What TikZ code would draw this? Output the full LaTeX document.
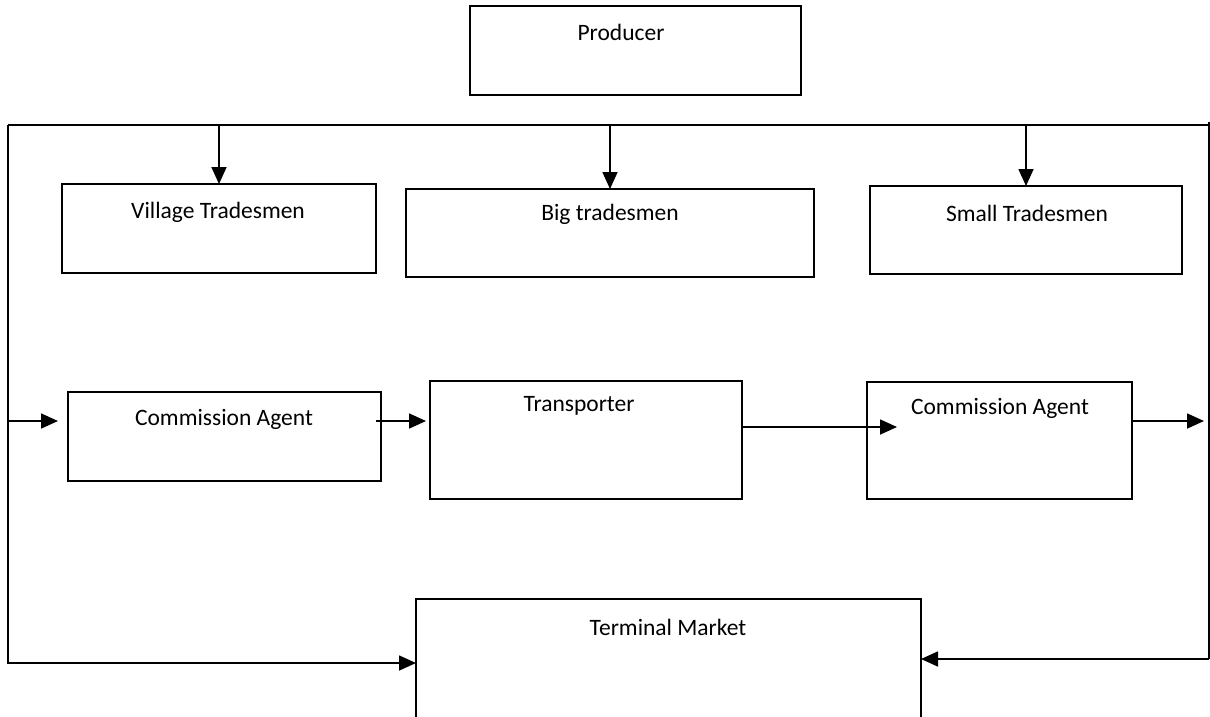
\documentclass[tikz,border=0pt]{standalone}
\usepackage{fontspec}
\setmainfont{Carlito}
\usetikzlibrary{arrows.meta}
\begin{document}
\begin{tikzpicture}[x=1pt,y=-1pt,
  box/.style={draw=black,line width=1.7pt,rectangle,inner sep=0pt,outer sep=0pt,anchor=north west},
  txt/.style={font=\fontsize{23.5}{28}\selectfont,inner sep=0pt,text=black},
  conn/.style={draw=black,line width=1.7pt},
  arr/.style={conn,-{Triangle[length=17pt,width=15pt]}}]
\useasboundingbox (0,0) rectangle (1210,716);
% boxes
\node[box,minimum width=331pt,minimum height=89pt] (prod) at (470,6) {};
\node[box,minimum width=314pt,minimum height=89pt] (vt) at (62,184) {};
\node[box,minimum width=408pt,minimum height=88pt] (bt) at (406,189) {};
\node[box,minimum width=312pt,minimum height=88pt] (st) at (870,186) {};
\node[box,minimum width=313pt,minimum height=89pt] (ca1) at (68,392) {};
\node[box,minimum width=312pt,minimum height=118pt] (tr) at (430,381) {};
\node[box,minimum width=265pt,minimum height=117pt] (ca2) at (867,382) {};
\node[box,minimum width=505pt,minimum height=128pt] (tm) at (416,599) {};
% texts
\node[txt] (tprod) at (621,32) {Producer};
\node[txt] (tvt) at (218,212) {Village Tradesmen};
\node[txt] (tbt) at (610,214) {Big tradesmen};
\node[txt] (tst) at (1027,213) {Small Tradesmen};
\node[txt] (tca1) at (224,419) {Commission Agent};
\node[txt] (ttr) at (579,406) {Transporter};
\node[txt] (tca2) at (1000,408) {Commission Agent};
\node[txt] (ttm) at (668,627) {Terminal Market};
% bus
\coordinate (bl) at (8,125);
\coordinate (br) at (1209,125);
\coordinate (brt) at (1209,122);
\draw[conn] (bl) -- (br);
\draw[conn] (brt) -- (1209,659) coordinate (brb);
\draw[arr] (bl) |- (tm.west);
\draw[arr] (brb) -- ([yshift=4pt]tm.east);
% down arrows
\draw[arr] (vt.north |- bl) -- (vt.north);
\draw[arr] (bt.north |- bl) -- (bt.north);
\draw[arr] (st.north |- bl) -- (st.north);
% middle row arrows
\coordinate (a1s) at (8,421);
\coordinate (a1e) at (58,421);
\coordinate (a2s) at (376,421);
\coordinate (a2e) at (426,421);
\coordinate (a3s) at (742,427);
\coordinate (a3e) at (897,427);
\coordinate (a4s) at (1132,421);
\coordinate (a4e) at (1204,421);
\draw[arr] (a1s) -- (a1e);
\draw[arr] (a2s) -- (a2e);
\draw[arr] (a3s) -- (a3e);
\draw[arr] (a4s) -- (a4e);
\end{tikzpicture}
\end{document}
